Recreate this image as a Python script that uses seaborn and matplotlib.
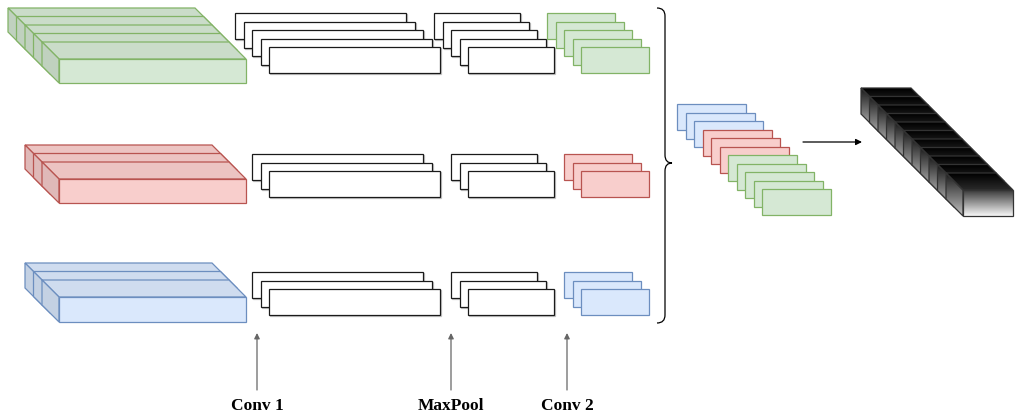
import numpy as np
import matplotlib
matplotlib.use("Agg")
import matplotlib.pyplot as plt
import seaborn as sns
from matplotlib.patches import Polygon, Rectangle, FancyArrowPatch, PathPatch
from matplotlib.path import Path
from matplotlib.colors import to_rgb

# ---------------- data ----------------
branch_maps = [5, 3, 3]                      # feature maps per branch (green, red, blue)
branch_fill = ["#d5e8d4", "#f8cecc", "#dae8fc"]
branch_edge = ["#82b366", "#b85450", "#6c8ebf"]
stage_labels = ["Conv 1", "MaxPool", "Conv 2"]
concat_branch_order = [2, 1, 0]              # blue, red, green in the concatenated stack
flat_units = sum(branch_maps)                # 11 units in the flattened vector

# ---------------- layout ----------------
W, H = 1017, 412
STEP = 8.5
DEPTH = 17
LW = 0.9
block_x, block_w = 59, 187
block_front_y = [59, 179, 297]
block_h = [24, 24, 25]
stage_front_x = [269, 468, 581]
stage_w = [171, 86, 68]
stage_h = 26
row_front_y = [47, 171, 289]
label_x = [257, 451, 567]

sns.set_theme(style="white")
plt.rcParams['font.family'] = ['Liberation Serif', 'DejaVu Serif']

fig = plt.figure(figsize=(W / 100, H / 100), dpi=100)
ax = fig.add_axes([0, 0, 1, 1])
ax.set_xlim(0, W)
ax.set_ylim(H, 0)
ax.axis('off')

zc = [1.0]


def nz():
    zc[0] += 1
    return zc[0]


def shade(c, k):
    return tuple(np.clip(np.array(to_rgb(c)) * k, 0, 1))


def cube(x, y, w, h, d, fill, edge):
    z = nz()
    top = [(x - d, y - d), (x + w - d, y - d), (x + w, y), (x, y)]
    side = [(x - d, y - d), (x, y), (x, y + h), (x - d, y + h - d)]
    ax.add_patch(Polygon(top, closed=True, fc=shade(fill, 0.95), ec=edge, lw=LW, zorder=z))
    ax.add_patch(Polygon(side, closed=True, fc=shade(fill, 0.9), ec=edge, lw=LW, zorder=z))
    ax.add_patch(Rectangle((x, y), w, h, fc=fill, ec=edge, lw=LW, zorder=z))


def grad_poly(verts, c0, c1, edge, z):
    p = Polygon(verts, closed=True, fc='none', ec=edge, lw=LW, zorder=z + 0.5)
    ax.add_patch(p)
    xs, ys = zip(*verts)
    g = np.linspace(0, 1, 64)[:, None, None]
    img = (1 - g) * np.array(to_rgb(c0)) + g * np.array(to_rgb(c1))
    im = ax.imshow(img, extent=(min(xs), max(xs), max(ys), min(ys)), origin='upper',
                   aspect='auto', zorder=z, interpolation='bilinear')
    im.set_clip_path(p)


def grad_cube(x, y, w, h, d):
    z = nz()
    top = [(x - d, y - d), (x + w - d, y - d), (x + w, y), (x, y)]
    side = [(x - d, y - d), (x, y), (x, y + h), (x - d, y + h - d)]
    front = [(x, y), (x + w, y), (x + w, y + h), (x, y + h)]
    grad_poly(top, "#000000", "#2a2a2a", "#333333", z)
    grad_poly(side, "#1a1a1a", "#c0c0c0", "#333333", z)
    grad_poly(front, "#3a3a3a", "#f7f7f7", "#333333", z)


def flat_rect(x, y, w, h, fill, edge, shadow=False):
    z = nz()
    if shadow:
        ax.add_patch(Rectangle((x + 1.2, y + 1.2), w, h, fc='none', ec='#c4c4c4', lw=LW, zorder=z - 0.3))
    ax.add_patch(Rectangle((x, y), w, h, fc=fill, ec=edge, lw=LW, zorder=z))


# ---------------- input blocks ----------------
for r, n in enumerate(branch_maps):
    for i in range(n):
        k = n - 1 - i
        cube(block_x - k * STEP, block_front_y[r] - k * STEP, block_w, block_h[r], DEPTH,
             branch_fill[r], branch_edge[r])

# ---------------- stage stacks ----------------
for r, n in enumerate(branch_maps):
    for s in range(3):
        for i in range(n):
            k = n - 1 - i
            x = stage_front_x[s] - k * STEP
            y = row_front_y[r] - k * STEP
            if s < 2:
                flat_rect(x, y, stage_w[s], stage_h, "white", "#1a1a1a", shadow=True)
            else:
                flat_rect(x, y, stage_w[s], stage_h, branch_fill[r], branch_edge[r])

# ---------------- concatenated stack ----------------
idx = 0
for b in concat_branch_order:
    for j in range(branch_maps[b]):
        flat_rect(677 + idx * STEP, 104 + idx * STEP, 69, 26, branch_fill[b], branch_edge[b])
        idx += 1

# ---------------- flattened vector ----------------
for i in range(flat_units):
    k = flat_units - 1 - i
    grad_cube(963 - k * STEP, 190 - k * STEP, 50, 26, DEPTH)

# ---------------- brace ----------------
bx = 665
verts = [(657, 8), (bx, 8), (bx, 16), (bx, 155), (bx, 163), (672, 163),
         (bx, 163), (bx, 171), (bx, 315), (bx, 323), (657, 323)]
codes = [Path.MOVETO, Path.CURVE3, Path.CURVE3, Path.LINETO, Path.CURVE3, Path.CURVE3,
         Path.CURVE3, Path.CURVE3, Path.LINETO, Path.CURVE3, Path.CURVE3]
ax.add_patch(PathPatch(Path(verts, codes), fc='none', ec='black', lw=LW, zorder=nz()))

# ---------------- arrows ----------------
ax.add_patch(FancyArrowPatch((803, 142), (862, 142), arrowstyle='-|>', mutation_scale=9,
                             color='black', lw=LW, shrinkA=0, shrinkB=0, zorder=nz()))
for lx, lab in zip(label_x, stage_labels):
    ax.add_patch(FancyArrowPatch((lx, 390), (lx, 333), arrowstyle='-|>', mutation_scale=8,
                                 color='#666666', lw=LW, shrinkA=0, shrinkB=0, zorder=nz()))
    ax.text(lx, 410, lab, ha='center', va='baseline', fontsize=12.5, fontweight='bold',
            family=['Liberation Serif', 'DejaVu Serif'], color='black')

fig.savefig("out.png", dpi=100)
